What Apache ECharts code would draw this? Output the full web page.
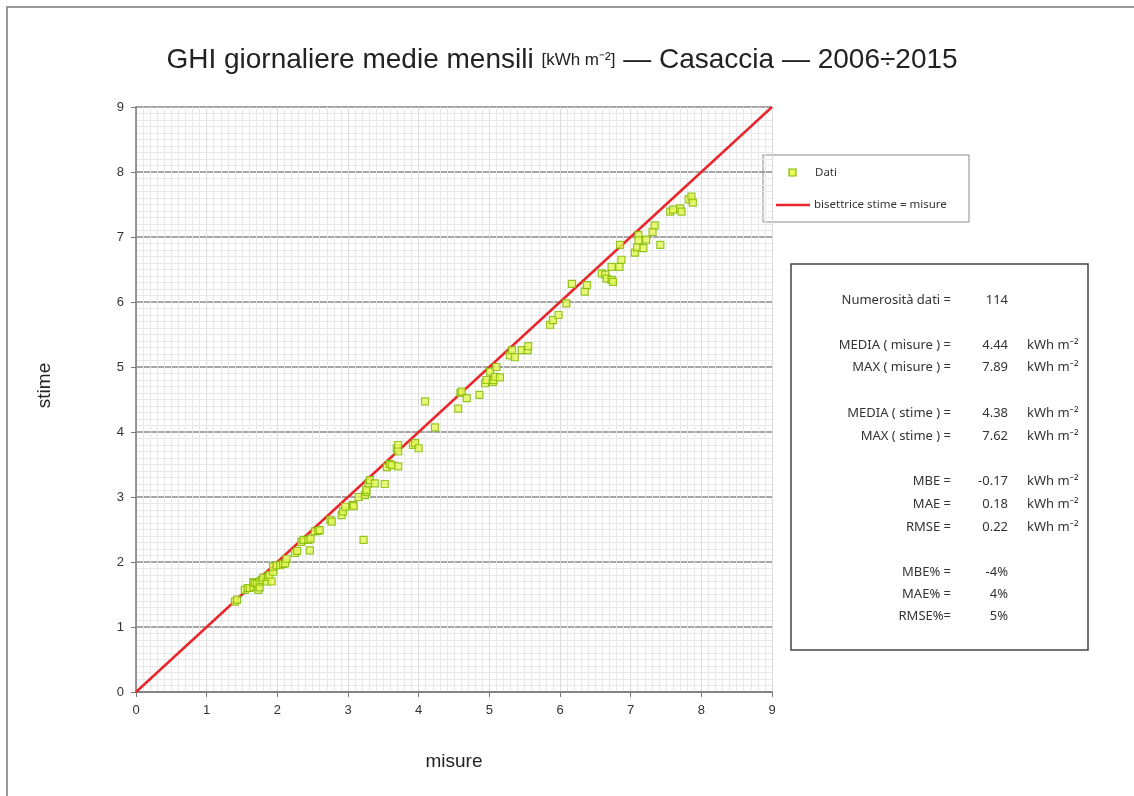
<!DOCTYPE html>
<html>
<head>
<meta charset="utf-8">
<script src="https://cdn.jsdelivr.net/npm/echarts@6/dist/echarts.min.js"></script>
<style>
  html, body { margin: 0; padding: 0; background: #fff; }
  #chart { width: 1134px; height: 796px; }
</style>
</head>
<body>
<div id="chart"></div>
<script>
const misure = [
  1.40, 1.43, 1.54, 1.58, 1.61, 1.66, 1.66, 1.68, 1.71, 1.73,
  1.75, 1.75, 1.78, 1.80, 1.85, 1.87, 1.89, 1.92, 1.94, 1.94,
  1.99, 2.04, 2.08, 2.11, 2.25, 2.28, 2.34, 2.37, 2.44, 2.46,
  2.47, 2.53, 2.58, 2.60, 2.75, 2.77, 2.91, 2.93, 2.96, 3.07,
  3.08, 3.15, 3.22, 3.24, 3.26, 3.26, 3.29, 3.31, 3.38, 3.52,
  3.55, 3.59, 3.62, 3.69, 3.71, 3.71, 3.71, 3.92, 3.95, 4.00,
  4.09, 4.23, 4.56, 4.59, 4.61, 4.68, 4.86, 4.94, 4.96, 5.01,
  5.05, 5.06, 5.08, 5.10, 5.15, 5.29, 5.32, 5.36, 5.46, 5.54,
  5.55, 5.86, 5.90, 5.98, 6.09, 6.17, 6.35, 6.38, 6.59, 6.64,
  6.66, 6.73, 6.73, 6.75, 6.84, 6.87, 6.85, 7.06, 7.09, 7.11,
  7.11, 7.18, 7.22, 7.31, 7.34, 7.42, 7.56, 7.60, 7.70, 7.72,
  7.82, 7.86, 7.88, 2.13
];
const stime = [
  1.39, 1.42, 1.57, 1.60, 1.60, 1.62, 1.69, 1.68, 1.66, 1.57,
  1.61, 1.70, 1.72, 1.76, 1.70, 1.77, 1.80, 1.70, 1.85, 1.93,
  1.95, 1.95, 1.97, 1.98, 2.14, 2.17, 2.31, 2.34, 2.34, 2.18,
  2.36, 2.47, 2.48, 2.49, 2.65, 2.62, 2.72, 2.78, 2.85, 2.88,
  2.86, 3.00, 2.34, 3.03, 3.08, 3.11, 3.21, 3.26, 3.21, 3.20,
  3.46, 3.51, 3.49, 3.75, 3.80, 3.70, 3.47, 3.80, 3.83, 3.75,
  4.47, 4.07, 4.36, 4.60, 4.62, 4.52, 4.57, 4.75, 4.80, 4.93,
  4.77, 4.80, 4.85, 5.00, 4.84, 5.18, 5.26, 5.15, 5.26, 5.26,
  5.32, 5.65, 5.72, 5.80, 5.98, 6.28, 6.16, 6.26, 6.44, 6.42,
  6.36, 6.54, 6.34, 6.31, 6.54, 6.65, 6.88, 6.76, 6.84, 7.03,
  6.95, 6.83, 6.96, 7.08, 7.18, 6.88, 7.39, 7.42, 7.44, 7.39,
  7.58, 7.62, 7.53, 2.05
];
const bisettrice = [[0, 0], [9, 9]];
const legendNames = ['Dati', 'bisettrice stime = misure'];

const statLabels = ['Numerosità dati =', 'MEDIA ( misure ) =', 'MAX ( misure ) =',
  'MEDIA ( stime ) =', 'MAX ( stime ) =', 'MBE =', 'MAE =', 'RMSE =',
  'MBE% =', 'MAE% =', 'RMSE%='];
const statValues = ['114', '4.44', '7.89', '4.38', '7.62', '-0.17', '0.18', '0.22', '-4%', '4%', '5%'];
const statUnits = ['', 'kWh m⁻²', 'kWh m⁻²', 'kWh m⁻²', 'kWh m⁻²', 'kWh m⁻²', 'kWh m⁻²', 'kWh m⁻²', '', '', ''];
const statRows = [300, 345, 367, 413, 436, 481, 504, 527, 572, 594, 616];

const points = misure.map((m, i) => [m, stime[i]]);

const markerFill = '#e6f85a';
const markerBorder = '#7fb800';
const lineRed = '#e8262b';

const chart = echarts.init(document.getElementById('chart'));

const statFont = '13px "Noto Sans"';
const statText = [];
statLabels.forEach((lab, i) => {
  const y = statRows[i];
  statText.push({ type: 'text', x: 951, y: y, style: { text: lab, fill: '#333', font: statFont, align: 'right', verticalAlign: 'middle' } });
  statText.push({ type: 'text', x: 1008, y: y, style: { text: statValues[i], fill: '#333', font: statFont, align: 'right', verticalAlign: 'middle' } });
  if (statUnits[i]) {
    statText.push({ type: 'text', x: 1027, y: y, style: { text: statUnits[i], fill: '#333', font: statFont, align: 'left', verticalAlign: 'middle' } });
  }
});

// hand-made legend box (keeps the small square marker of the original)
const legendFont = '11.5px "Noto Sans"';
const legendGraphic = [
  { type: 'rect', shape: { x: 763, y: 155, width: 206, height: 67 }, style: { fill: '#fff', stroke: '#888', lineWidth: 1 } },
  { type: 'rect', shape: { x: 789, y: 169, width: 7, height: 7 }, style: { fill: markerFill, stroke: markerBorder, lineWidth: 1.2 } },
  { type: 'text', x: 815, y: 173, style: { text: legendNames[0], fill: '#333', font: legendFont, verticalAlign: 'middle' } },
  { type: 'line', shape: { x1: 776, y1: 205, x2: 810, y2: 205 }, style: { stroke: lineRed, lineWidth: 2.5 } },
  { type: 'text', x: 814, y: 205, style: { text: legendNames[1], fill: '#333', font: legendFont, verticalAlign: 'middle' } }
];

const option = {
  backgroundColor: '#fff',
  animation: false,
  title: {
    text: '{a|GHI giornaliere medie mensili }{u|[kWh m⁻²]}{a| — Casaccia — 2006÷2015}',
    left: 557,
    top: 41,
    textAlign: 'center',
    textStyle: {
      fontWeight: 'normal',
      rich: {
        a: { fontFamily: 'Liberation Sans', fontSize: 28, fontWeight: 'normal', color: '#222' },
        u: { fontFamily: 'Liberation Sans', fontSize: 17, fontWeight: 'normal', color: '#222' }
      }
    }
  },
  grid: { left: 136, top: 107, width: 636, height: 585, containLabel: false },
  xAxis: {
    type: 'value',
    min: 0,
    max: 9,
    interval: 1,
    name: 'misure',
    nameLocation: 'middle',
    nameGap: 60,
    nameTextStyle: { fontFamily: 'Liberation Sans', fontSize: 19, color: '#222' },
    axisLine: { lineStyle: { color: '#777', width: 1.5 } },
    axisTick: { show: true, length: 5, lineStyle: { color: '#777' } },
    axisLabel: { fontFamily: 'Liberation Sans', fontSize: 13, color: '#333', margin: 12 },
    splitLine: { show: true, lineStyle: { color: '#dcdcdc', width: 1 } },
    minorTick: { show: false, splitNumber: 10 },
    minorSplitLine: { show: true, lineStyle: { color: '#e8e8e8', width: 1 } }
  },
  yAxis: {
    type: 'value',
    min: 0,
    max: 9,
    interval: 1,
    name: 'stime',
    nameLocation: 'middle',
    nameGap: 82,
    nameRotate: 90,
    nameTextStyle: { fontFamily: 'Liberation Sans', fontSize: 19, color: '#222', padding: [0, 0, 0, 28] },
    axisLine: { show: true, lineStyle: { color: '#777', width: 1.5 } },
    axisTick: { show: true, length: 5, lineStyle: { color: '#777' } },
    axisLabel: { fontFamily: 'Liberation Sans', fontSize: 13, color: '#333', margin: 12 },
    splitLine: { show: true, lineStyle: { color: '#8a8a8a', width: 1.5 } },
    minorTick: { show: false, splitNumber: 10 },
    minorSplitLine: { show: true, lineStyle: { color: '#e8e8e8', width: 1 } }
  },
  series: [
    {
      name: legendNames[0],
      type: 'scatter',
      data: points,
      symbol: 'rect',
      symbolSize: 7,
      z: 3,
      itemStyle: { color: markerFill, borderColor: markerBorder, borderWidth: 1.2 }
    },
    {
      name: legendNames[1],
      type: 'line',
      data: bisettrice,
      showSymbol: false,
      symbol: 'none',
      z: 2,
      lineStyle: { color: lineRed, width: 2.5 }
    }
  ],
  graphic: [
    { type: 'rect', shape: { x: 7, y: 7, width: 1160, height: 820 }, style: { fill: 'none', stroke: '#999', lineWidth: 2 }, silent: true },
    { type: 'rect', shape: { x: 791, y: 264, width: 297, height: 386 }, style: { fill: '#fff', stroke: '#444', lineWidth: 1.5 }, silent: true }
  ].concat(legendGraphic, statText)
};

chart.setOption(option);
</script>
</body>
</html>
